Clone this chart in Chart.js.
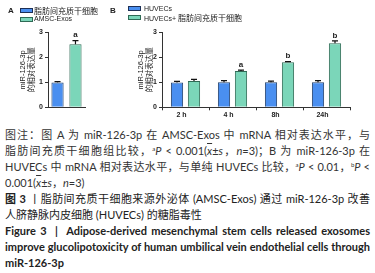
<!DOCTYPE html>
<html><head><meta charset="utf-8">
<script src="https://cdn.jsdelivr.net/npm/chart.js@4"></script>
<style>
html,body{margin:0;padding:0;background:#fff;width:375px;height:273px;overflow:hidden;position:relative;font-family:Lato,"Noto Sans CJK SC",sans-serif;}
#cA{position:absolute;left:0;top:0;}
#cB{position:absolute;left:110px;top:0;}
.lg{position:absolute;font-family:"Liberation Sans","Noto Sans CJK SC";font-size:7px;color:#222;line-height:8px;white-space:nowrap;}
.lg .z{font-family:"Noto Sans CJK SC";font-size:8px;}
.box{position:absolute;width:11px;height:3px;border:1px solid #1d2f55;}
.pl{position:absolute;font-family:"Liberation Sans";font-weight:bold;font-size:8px;line-height:10px;color:#222;}
#cap{position:absolute;left:5px;top:127px;width:365px;font-size:11px;line-height:16px;color:#333;}
#cap div{height:16px;white-space:normal;}
.j{text-align:justify;text-align-last:justify;}
.en{font-weight:bold;font-size:11px;color:#222;}
sup{font-size:6px;vertical-align:4px;line-height:0;}
.xb{text-decoration:overline;font-style:italic;}
</style></head>
<body>
<canvas id="cA" width="100" height="125"></canvas>
<canvas id="cB" width="265" height="125"></canvas>

<div class="pl" style="left:8px;top:6px;">A</div>
<div class="box" style="left:19.5px;top:8.3px;background:#4a8ff0;"></div>
<div class="lg" style="left:34px;top:6.5px;"><span class="z">脂肪间充质干细胞</span></div>
<div class="box" style="left:19.5px;top:16.7px;background:#7bd6b9;border-color:#2f6a55;"></div>
<div class="lg" style="left:34px;top:15px;">AMSC-Exos</div>

<div class="pl" style="left:110px;top:6px;">B</div>
<div class="box" style="left:128px;top:6px;background:#4a8ff0;"></div>
<div class="lg" style="left:144px;top:4.5px;">HUVECs</div>
<div class="box" style="left:128px;top:15px;background:#7bd6b9;border-color:#2f6a55;"></div>
<div class="lg" style="left:144px;top:14px;">HUVECs+ <span class="z">脂肪间充质干细胞</span></div>

<div id="cap">
<div class="j">图注：图 A 为 miR-126-3p 在 AMSC-Exos 中 mRNA 相对表达水平，与</div>
<div class="j">脂肪间充质干细胞组比较，<sup>a</sup><i>P</i> &lt; 0.001(<span class="xb">x</span>±<i>s</i>，<i>n</i>=3)；B 为 miR-126-3p 在</div>
<div class="j">HUVECs 中 mRNA 相对表达水平，与单纯 HUVECs 比较，<sup>a</sup><i>P</i> &lt; 0.01，<sup>b</sup><i>P</i> &lt;</div>
<div>0.001(<span class="xb">x</span>±<i>s</i>，<i>n</i>=3)</div>
<div class="j" style="color:#222;"><b>图 3</b> 丨脂肪间充质干细胞来源外泌体 (AMSC-Exos) 通过 miR-126-3p 改善</div>
<div style="color:#222;">人脐静脉内皮细胞 (HUVECs) 的糖脂毒性</div>
<div class="j en">Figure 3 &nbsp;|&nbsp; Adipose-derived mesenchymal stem cells released exosomes</div>
<div class="j en">improve glucolipotoxicity of human umbilical vein endothelial cells through</div>
<div class="en">miR-126-3p</div>
</div>

<script>
// ---- data ----
const categoriesA = [''];
const seriesA1Name = '脂肪间充质干细胞';
const seriesA2Name = 'AMSC-Exos';
const seriesA1 = [0.99];
const seriesA1Err = [0.04];
const seriesA1Sig = [''];
const seriesA2 = [2.52];
const seriesA2Err = [0.15];
const seriesA2Sig = ['a'];

const categoriesB = ['2 h', '4 h', '8h', '24h'];
const seriesB1Name = 'HUVECs';
const seriesB2Name = 'HUVECs+ 脂肪间充质干细胞';
const seriesB1 = [0.99, 1.00, 1.00, 1.00];
const seriesB1Err = [0.05, 0.07, 0.05, 0.07];
const seriesB1Sig = ['', '', '', ''];
const seriesB2 = [1.05, 1.45, 1.80, 2.56];
const seriesB2Err = [0.07, 0.04, 0.03, 0.10];
const seriesB2Sig = ['', 'a', 'b', 'b'];

const yTickValues = [0, 1, 2, 3];
const yTitle = ['miR-126-3p', '的相对表达量'];

const BLUE = '#4a8ff0', BLUE_B = '#22406b';
const GREEN = '#7bd6b9', GREEN_B = '#2f6a55';

const errPlugin = {
  id: 'errbars',
  afterDatasetsDraw(chart) {
    const ctx = chart.ctx, ys = chart.scales.y;
    chart.data.datasets.forEach((ds, i) => {
      const meta = chart.getDatasetMeta(i);
      meta.data.forEach((bar, j) => {
        const yt = ys.getPixelForValue(ds.data[j] + ds.err[j]);
        ctx.save();
        ctx.strokeStyle = '#111'; ctx.lineWidth = 1.2;
        ctx.beginPath();
        ctx.moveTo(bar.x, bar.y); ctx.lineTo(bar.x, yt);
        ctx.moveTo(bar.x - 3, yt); ctx.lineTo(bar.x + 3, yt);
        ctx.stroke();
        if (ds.sig && ds.sig[j]) {
          ctx.fillStyle = '#222';
          ctx.font = 'bold 8px "Liberation Sans"';
          ctx.textAlign = 'center'; ctx.textBaseline = 'middle';
          ctx.fillText(ds.sig[j], bar.x, yt - 5.5);
        }
        ctx.restore();
      });
    });
  }
};

function yScale(w, pad) {
  return {
    min: 0, max: 3,
    afterBuildTicks(s) { s.ticks = yTickValues.map(v => ({ value: v })); },
    ticks: { padding: 2, color: '#222', font: { family: 'Liberation Sans', size: 7, weight: 'bold' } },
    grid: { drawOnChartArea: false, drawTicks: true, tickLength: 3, color: '#333' },
    border: { display: true, color: '#333', width: 1 },
    title: { display: true, text: yTitle, color: '#222',
      font: { family: '"Liberation Sans", "Noto Sans CJK SC"', size: 7.5, lineHeight: 1.15 },
      padding: { top: pad, bottom: 0 } },
    afterFit(s) { s.width = w; }
  };
}

function ds(label, data, err, sig, bg, bc) {
  return { label, data, err, sig, backgroundColor: bg, borderColor: bc, borderWidth: 1 };
}

new Chart(document.getElementById('cA'), {
  type: 'bar',
  data: {
    labels: categoriesA,
    datasets: [
      ds(seriesA1Name, seriesA1, seriesA1Err, seriesA1Sig, BLUE, BLUE_B),
      ds(seriesA2Name, seriesA2, seriesA2Err, seriesA2Sig, GREEN, GREEN_B)
    ]
  },
  options: {
    responsive: false, animation: false,
    categoryPercentage: 0.97, barPercentage: 0.68,
    layout: { padding: { top: 32.3, right: 15, left: 0, bottom: 0 } },
    plugins: { legend: { display: false }, tooltip: { enabled: false } },
    scales: {
      x: { offset: true, ticks: { display: false }, grid: { display: false },
        border: { display: true, color: '#333', width: 1 },
        afterFit(s) { s.height = 17.7; } },
      y: yScale(48, 18.9)
    }
  },
  plugins: [errPlugin]
});

new Chart(document.getElementById('cB'), {
  type: 'bar',
  data: {
    labels: categoriesB,
    datasets: [
      ds(seriesB1Name, seriesB1, seriesB1Err, seriesB1Sig, BLUE, BLUE_B),
      ds(seriesB2Name, seriesB2, seriesB2Err, seriesB2Sig, GREEN, GREEN_B)
    ]
  },
  options: {
    responsive: false, animation: false,
    categoryPercentage: 0.723, barPercentage: 0.72,
    layout: { padding: { top: 32.3, right: 25, left: 0, bottom: 0 } },
    plugins: { legend: { display: false }, tooltip: { enabled: false } },
    scales: {
      x: { offset: true,
        ticks: { padding: 1, labelOffset: -4, color: '#222', font: { family: 'Liberation Sans', size: 7, weight: 'bold' } },
        grid: { drawOnChartArea: false, drawTicks: true, tickLength: 3, color: '#333' },
        border: { display: true, color: '#333', width: 1 },
        afterFit(s) { s.height = 17.7; } },
      y: yScale(52, 26.9)
    }
  },
  plugins: [errPlugin]
});
</script>
</body></html>
